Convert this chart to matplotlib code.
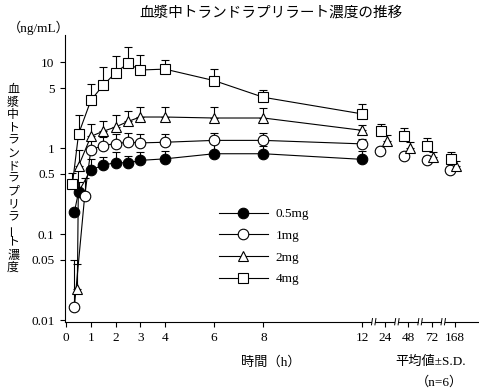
import numpy as np
import matplotlib
matplotlib.use("Agg")
import matplotlib.pyplot as plt
from matplotlib.lines import Line2D
from matplotlib.transforms import blended_transform_factory

JP = ['Liberation Serif', 'Noto Sans CJK JP']
SERIF = ['Liberation Serif', 'DejaVu Serif']

# x軸 (12h以降は省略)
tick_hours = [0, 1, 2, 3, 4, 6, 8, 12, 24, 48, 72, 168]
knot_hours = [0, 12, 24, 48, 72, 168]
knot_pos = [0, 12, 12.94, 13.88, 14.82, 15.76]

def hx(h):
    return np.interp(h, knot_hours, knot_pos)

ytick_vals = [0.01, 0.05, 0.1, 0.5, 1, 5, 10]
ytick_labels = ['0.01', '0.05', '0.1', '0.5', '1', '5', '10']

labels = ['0.5mg', '1mg', '2mg', '4mg']

# 0.5mg
t_05 = [0.33, 0.5, 1, 1.5, 2, 2.5, 3, 4, 6, 8, 12]
c_05 = [0.18, 0.31, 0.56, 0.63, 0.68, 0.67, 0.72, 0.75, 0.86, 0.86, 0.74]
sd_05 = [0, 0.09, 0.18, 0.16, 0.21, 0.15, 0.17, 0.17, 0.29, 0.21, 0.18]

# 1mg
t_1 = [0.33, 0.75, 1, 1.5, 2, 2.5, 3, 4, 6, 8, 12, 24, 48, 72, 168]
c_1 = [0.0143, 0.28, 0.96, 1.07, 1.13, 1.17, 1.15, 1.17, 1.23, 1.23, 1.12, 0.92, 0.82, 0.72, 0.56]
sd_1 = [0.036, 0.17, 0.29, 0.26, 0.33, 0.33, 0.32, 0.30, 0.27, 0.27, 0.16, 0.06, 0.05, 0.08, 0.11]

# 2mg
t_2 = [0.45, 0.5, 1, 1.5, 2, 2.5, 3, 4, 6, 8, 12, 24, 48, 72, 168]
c_2 = [0.023, 0.62, 1.37, 1.57, 1.76, 2.04, 2.3, 2.3, 2.24, 2.24, 1.61, 1.2, 1.0, 0.79, 0.62]
sd_2 = [0.022, 0.33, 0.53, 0.51, 0.64, 0.68, 0.7, 0.7, 0.76, 0.68, 0.26, 0.23, 0.17, 0.11, 0.08]

# 4mg
t_4 = [0.25, 0.5, 1, 1.5, 2, 2.5, 3, 4, 6, 8, 12, 24, 48, 72, 168]
c_4 = [0.38, 1.46, 3.6, 5.4, 7.5, 9.7, 8.1, 8.3, 6.1, 3.9, 2.5, 1.6, 1.37, 1.05, 0.75]
sd_4 = [0.14, 0.98, 2.0, 3.5, 4.3, 5.2, 3.9, 2.3, 2.3, 0.8, 0.8, 0.32, 0.33, 0.25, 0.16]

series = [(t_05, c_05, sd_05), (t_1, c_1, sd_1), (t_2, c_2, sd_2), (t_4, c_4, sd_4)]
styles = [
    dict(marker='o', mfc='black', ms=7.6, late_dx=0.0),
    dict(marker='o', mfc='white', ms=7.6, late_dx=-0.2),
    dict(marker='^', mfc='white', ms=7.6, late_dx=0.05),
    dict(marker='s', mfc='white', ms=6.8, late_dx=-0.17),
]

fig = plt.figure(figsize=(4.79, 3.91), dpi=100)
ax = fig.add_axes([65 / 479, 1 - 321.7 / 391, 413 / 479, (321.7 - 35) / 391])

handles = []
for (t, c, sd), st, lab in zip(series, styles, labels):
    t = np.array(t)
    x = hx(t) + np.where(t > 12, st['late_dx'], 0.0)
    c = np.array(c)
    sd = np.array(sd)
    early = t <= 12
    ax.plot(x[early], c[early], '-', color='black', lw=0.8, zorder=2)
    ax.errorbar(x, c, yerr=[np.zeros_like(sd), sd], fmt='none', ecolor='black',
                elinewidth=0.8, capsize=3, capthick=0.8, zorder=1)
    ax.plot(x, c, ls='none', marker=st['marker'], mfc=st['mfc'], mec='black',
            ms=st['ms'], mew=0.8, zorder=3)
    handles.append(Line2D([], [], color='black', lw=0.8, marker=st['marker'],
                          mfc=st['mfc'], mec='black', ms=st['ms'], mew=0.8))

ax.set_yscale('log')
ax.set_ylim(0.00956, 20.7)
ax.set_xlim(-0.05, 16.7)
ax.set_yticks(ytick_vals)
ax.set_yticklabels(ytick_labels)
ax.minorticks_off()
ax.set_xticks(hx(tick_hours))
ax.set_xticklabels([str(h) for h in tick_hours])
for s in ['top', 'right']:
    ax.spines[s].set_visible(False)
for s in ['left', 'bottom']:
    ax.spines[s].set_linewidth(0.8)
ax.tick_params(direction='out', length=3.5, width=0.8, labelsize=9.5, pad=4)
for lbl in ax.get_xticklabels() + ax.get_yticklabels():
    lbl.set_family(SERIF)

# 省略マーク
trans = blended_transform_factory(ax.transData, ax.transAxes)
for a, b in zip(knot_pos[1:-1], knot_pos[2:]):
    m = (a + b) / 2
    ax.fill_between([m - 0.06, m + 0.06], -0.004, 0.004, color='white',
                    transform=trans, clip_on=False, zorder=4, lw=0)
    for dx in (-0.07, 0.07):
        ax.plot([m + dx - 0.02, m + dx + 0.02], [-0.011, 0.011], color='black',
                lw=0.7, transform=trans, clip_on=False, zorder=5)

leg = ax.legend(handles, labels, loc='upper left', bbox_to_anchor=(219 / 479, 1 - 208 / 391),
                bbox_transform=fig.transFigure, frameon=False, borderpad=0, borderaxespad=0,
                handlelength=3.7, handletextpad=0.6, labelspacing=0.72,
                prop={'family': SERIF, 'size': 9.5})

fig.text(271 / 479, 1 - 13 / 391, '血漿中トランドラプリラート濃度の推移', ha='center', va='center',
         family=JP, fontsize=10.5)
fig.text(8 / 479, 1 - 28 / 391, '（ng/mL）', ha='left', va='center', family=JP, fontsize=9.5)

ylab = '血漿中トランドラプリラート濃度'
for i, ch in enumerate(ylab):
    fig.text(13 / 479, 1 - (90 + 12.7 * i) / 391, ch, ha='center', va='center', family=JP,
             fontsize=8.6, rotation=90 if ch == 'ー' else 0)

fig.text(271 / 479, 1 - 362 / 391, '時間（h）', ha='center', va='center', family=JP, fontsize=9.5)
fig.text(431 / 479, 1 - 362 / 391, '平均値±S.D.', ha='center', va='center', family=JP, fontsize=9.5)
fig.text(439 / 479, 1 - 382 / 391, '（n=6）', ha='center', va='center', family=JP, fontsize=9.5)

fig.savefig('out.png', dpi=100)
